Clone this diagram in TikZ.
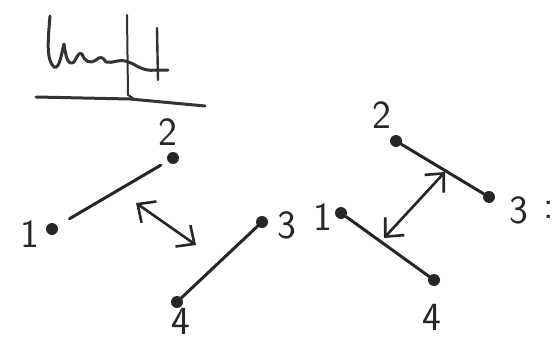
\documentclass[tikz,border=0pt]{standalone}
\usetikzlibrary{arrows.meta}
\begin{document}
\begin{tikzpicture}[x=1pt,y=-1pt,
  pt/.style={circle,fill=black!85,inner sep=0pt,minimum size=12pt},
  lab/.style={font=\fontsize{40}{40}\selectfont\sffamily, text=black!85, inner sep=0pt},
  ln/.style={line width=3pt,draw=black!85,line cap=round},
  dbl/.style={line width=2.6pt,draw=black!85,{Straight Barb[length=14pt,width=26pt,line width=2.6pt]}-{Straight Barb[length=14pt,width=26pt,line width=2.6pt]}}]
\useasboundingbox (0,0) rectangle (560,343);
% title scribble
\draw[line width=3pt,black!80,line cap=round,line join=round]
  (50,16) .. controls (48,40) and (46,60) .. (54,67)
  .. controls (60,70) and (62,50) .. (64,44)
  .. controls (66,58) and (68,66) .. (74,62)
  .. controls (78,55) and (79,52) .. (82,54)
  .. controls (85,62) and (90,64) .. (96,60)
  .. controls (100,56) and (103,57) .. (106,62)
  .. controls (112,64) and (120,58) .. (128,62)
  .. controls (136,64) and (142,72) .. (156,70) -- (168,70);
\draw[line width=2pt,black!80,line cap=round] (127,15) -- (128,95) -- (133,98);
\draw[line width=2.4pt,black!80,line cap=round] (157,28) -- (158,80);
\draw[line width=3pt,black!80,line cap=round] (36,97) -- (130,99) -- (205,106);
% left graph
\node[pt] (a1) at (52,229) {};
\node[pt] (a2) at (173,158) {};
\node[pt] (a3) at (262,222) {};
\node[pt] (a4) at (177,302) {};
\node[lab] (la1) at (30,234) {1};
\node[lab] (la2) at (168,132) {2};
\node[lab] (la3) at (287,225) {3};
\node[lab] (la4) at (181,321) {4};
\draw[ln,shorten <=14pt,shorten >=8pt] (a1) -- (a2);
\draw[ln] (a3) -- (a4);
\coordinate (ls) at (136,203);
\coordinate (le) at (196,245);
\draw[dbl] (ls) -- (le);
% right graph
\node[pt] (b1) at (341,213) {};
\node[pt] (b2) at (396,141) {};
\node[pt] (b3) at (489,197) {};
\node[pt] (b4) at (434,280) {};
\node[lab] (lb1) at (323,217) {1};
\node[lab] (lb2) at (382,115) {2};
\node[lab] (lb3) at (519,210) {3};
\node[lab] (lb5) at (549,210) {:};
\node[lab] (lb4) at (432,317) {4};
\draw[ln] (b2) -- (b3);
\draw[ln] (b1) -- (b4);
\coordinate (rs) at (445,172);
\coordinate (re) at (384,238);
\draw[dbl] (rs) -- (re);
\end{tikzpicture}
\end{document}
